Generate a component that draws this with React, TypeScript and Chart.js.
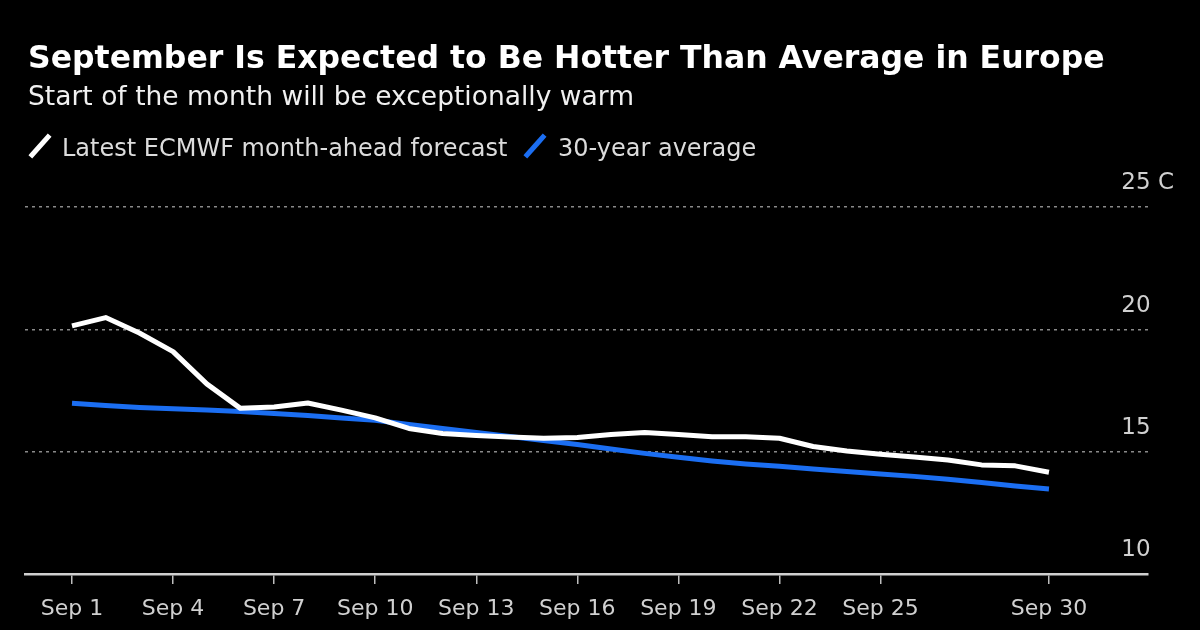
import React, { useEffect, useRef } from "react";
import { Chart, registerables } from "chart.js";

Chart.register(...registerables);

const titleText = "September Is Expected to Be Hotter Than Average in Europe";
const subtitleText = "Start of the month will be exceptionally warm";
const seriesNames = ["Latest ECMWF month-ahead forecast", "30-year average"];
const seriesColors = ["#ffffff", "#1b6ef2"];

const days = [
  1, 2, 3, 4, 5, 6, 7, 8, 9, 10, 11, 12, 13, 14, 15, 16, 17, 18, 19, 20, 21, 22,
  23, 24, 25, 26, 27, 28, 29, 30,
];
const forecast = [
  20.14, 20.48, 19.85, 19.09, 17.77, 16.77, 16.83, 16.99, 16.7, 16.38, 15.95,
  15.74, 15.66, 15.6, 15.55, 15.58, 15.7, 15.78, 15.7, 15.61, 15.61, 15.55,
  15.21, 15.03, 14.89, 14.78, 14.66, 14.46, 14.42, 14.16,
];
const average = [
  16.98, 16.89, 16.81, 16.75, 16.7, 16.64, 16.56, 16.48, 16.38, 16.28, 16.11,
  15.95, 15.78, 15.62, 15.46, 15.29, 15.11, 14.93, 14.77, 14.62, 14.5, 14.4,
  14.29, 14.19, 14.09, 13.99, 13.87, 13.74, 13.6, 13.47,
];
const xTickDays = [1, 4, 7, 10, 13, 16, 19, 22, 25, 30];
const yTickValues = [10, 15, 20, 25];
const monthLabel = "Sep";
const unitLabel = "C";

function Slash({ color }: { color: string }) {
  return (
    <svg width="24" height="26" style={{ position: "absolute", left: 0, top: 0 }}>
      <line x1="4" y1="22" x2="20" y2="4" stroke={color} strokeWidth="5" strokeLinecap="square" />
    </svg>
  );
}

export default function App() {
  const canvasRef = useRef<HTMLCanvasElement | null>(null);

  useEffect(() => {
    const canvas = canvasRef.current;
    if (!canvas) return;
    Chart.defaults.font.family = "'DejaVu Sans', sans-serif";
    const chart = new Chart(canvas, {
      type: "line",
      data: {
        datasets: [
          {
            label: seriesNames[0],
            data: days.map((d, i) => ({ x: d, y: forecast[i] })),
            borderColor: seriesColors[0],
            borderWidth: 5,
            pointRadius: 0,
            tension: 0,
            borderJoinStyle: "round",
            borderCapStyle: "butt",
            order: 0,
          },
          {
            label: seriesNames[1],
            data: days.map((d, i) => ({ x: d, y: average[i] })),
            borderColor: seriesColors[1],
            borderWidth: 5,
            pointRadius: 0,
            tension: 0,
            borderJoinStyle: "round",
            borderCapStyle: "butt",
            order: 1,
          },
        ],
      },
      options: {
        responsive: false,
        animation: false,
        devicePixelRatio: 1,
        layout: { padding: { left: 25, right: 52, top: 207, bottom: 0 } },
        plugins: {
          legend: { display: false },
          tooltip: { enabled: false },
          title: { display: false },
        },
        scales: {
          x: {
            type: "linear",
            min: -0.395,
            max: 32.94,
            afterBuildTicks: (scale: any) => {
              scale.ticks = xTickDays.map((v) => ({ value: v }));
            },
            afterFit: (scale: any) => {
              scale.height = 56;
            },
            ticks: {
              autoSkip: false,
              maxRotation: 0,
              padding: 12,
              color: "#d0d0d0",
              font: { size: 22 },
              callback: (v: any) => `${monthLabel} ${v}`,
            },
            grid: {
              drawOnChartArea: false,
              drawTicks: true,
              tickLength: 10,
              color: "#bdbdbd",
              lineWidth: 1.5,
            },
            border: { display: true, color: "#cfcfcf", width: 2.5 },
          },
          y: {
            type: "linear",
            position: "right",
            min: 10,
            max: 25,
            afterBuildTicks: (scale: any) => {
              scale.ticks = yTickValues.map((v) => ({ value: v }));
            },
            afterFit: (scale: any) => {
              scale.width = 0;
            },
            ticks: {
              mirror: true,
              crossAlign: "far",
              padding: 26,
              labelOffset: -23.5,
              color: "#d0d0d0",
              font: { size: 23 },
              callback: (v: any) => (v === 25 ? `${v} ${unitLabel}` : `${v}`),
            },
            grid: {
              drawTicks: false,
              color: (ctx: any) => (ctx.tick && ctx.tick.value === 10 ? "rgba(0,0,0,0)" : "#8a8a8a"),
              lineWidth: 1.5,
            },
            border: { display: false, dash: [3, 4] },
          },
        },
      },
    });
    return () => chart.destroy();
  }, []);

  return (
    <div
      style={{
        position: "absolute",
        left: 0,
        top: 0,
        width: 1200,
        height: 630,
        background: "#000",
        overflow: "hidden",
        fontFamily: "'DejaVu Sans', sans-serif",
      }}
    >
      <canvas ref={canvasRef} width={1200} height={630} style={{ position: "absolute", left: 0, top: 0 }} />
      <div
        style={{
          position: "absolute",
          left: 28,
          top: 42.4,
          fontSize: 31.5,
          lineHeight: "31.5px",
          fontWeight: "bold",
          color: "#fff",
          whiteSpace: "nowrap",
        }}
      >
        {titleText}
      </div>
      <div
        style={{
          position: "absolute",
          left: 28,
          top: 82.6,
          fontSize: 26.5,
          lineHeight: "26.5px",
          color: "#f0f0f0",
          whiteSpace: "nowrap",
        }}
      >
        {subtitleText}
      </div>
      <div style={{ position: "absolute", left: 28, top: 133, width: 24, height: 26 }}>
        <Slash color={seriesColors[0]} />
      </div>
      <div
        style={{
          position: "absolute",
          left: 62,
          top: 135.7,
          fontSize: 24,
          lineHeight: "24px",
          color: "#dcdcdc",
          whiteSpace: "nowrap",
        }}
      >
        {seriesNames[0]}
      </div>
      <div style={{ position: "absolute", left: 523, top: 133, width: 24, height: 26 }}>
        <Slash color={seriesColors[1]} />
      </div>
      <div
        style={{
          position: "absolute",
          left: 558,
          top: 135.7,
          fontSize: 24,
          lineHeight: "24px",
          color: "#dcdcdc",
          whiteSpace: "nowrap",
        }}
      >
        {seriesNames[1]}
      </div>
    </div>
  );
}
